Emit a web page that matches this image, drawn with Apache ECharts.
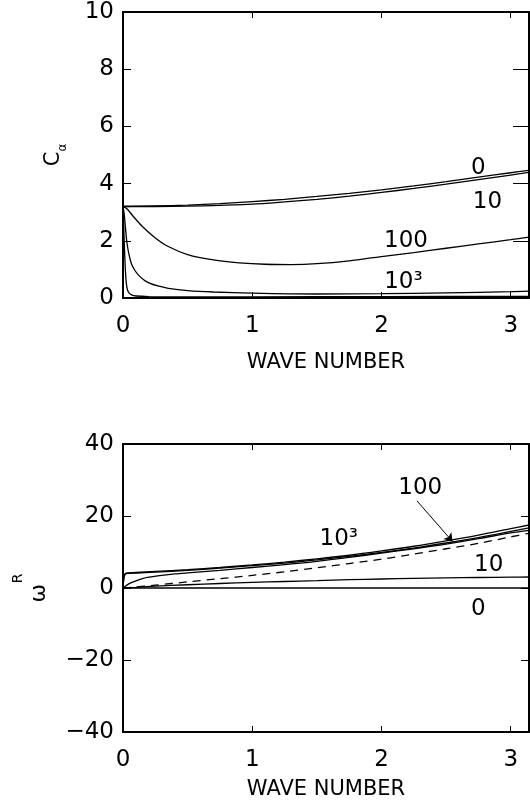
<!DOCTYPE html>
<html><head><meta charset="utf-8">
<script src="https://cdn.jsdelivr.net/npm/echarts@6/dist/echarts.min.js"></script>
<style>html,body{margin:0;padding:0;background:#fff}#c{width:530px;height:802px}</style>
</head><body><div id="c"></div><script>
// ---------- Top panel: phase speed C_alpha vs wave number ----------
const kC0   = [0, 0.25, 0.5, 0.75, 1, 1.25, 1.5, 1.75, 2, 2.25, 2.5, 2.75, 3, 3.1416];
const c0    = [3.20, 3.22, 3.25, 3.30, 3.37, 3.45, 3.55, 3.66, 3.78, 3.92, 4.07, 4.23, 4.38, 4.46];
const kC10  = [0, 0.25, 0.5, 0.75, 1, 1.25, 1.5, 1.75, 2, 2.25, 2.5, 2.75, 3, 3.1416];
const c10   = [3.20, 3.20, 3.21, 3.24, 3.28, 3.36, 3.45, 3.56, 3.69, 3.83, 3.98, 4.14, 4.30, 4.39];
const kC100 = [0, 0.03, 0.08, 0.15, 0.25, 0.35, 0.5, 0.7, 0.9, 1.1, 1.3, 1.5, 1.75, 2, 2.25, 2.5, 2.75, 3, 3.1416];
const c100  = [3.20, 3.12, 2.85, 2.50, 2.10, 1.80, 1.52, 1.33, 1.23, 1.18, 1.17, 1.20, 1.30, 1.45, 1.59, 1.74, 1.89, 2.04, 2.13];
const kC1e3 = [0, 0.01, 0.02, 0.03, 0.045, 0.065, 0.09, 0.12, 0.16, 0.2, 0.27, 0.35, 0.5, 0.7, 1, 1.5, 2, 2.5, 3, 3.1416];
const c1e3  = [3.20, 2.90, 2.40, 1.95, 1.55, 1.20, 0.98, 0.80, 0.64, 0.53, 0.42, 0.34, 0.26, 0.21, 0.17, 0.14, 0.15, 0.18, 0.22, 0.24];
const kC1e4 = [0, 0.005, 0.01, 0.015, 0.02, 0.026, 0.035, 0.05, 0.07, 0.1, 0.2, 0.5, 1, 2, 3, 3.1416];
const c1e4  = [3.20, 2.60, 1.90, 1.30, 0.85, 0.50, 0.28, 0.16, 0.10, 0.07, 0.05, 0.04, 0.04, 0.05, 0.06, 0.06];

// ---------- Bottom panel: omega^R vs wave number ----------
const kW0   = [0, 3.1416];
const w0    = [0, 0];
const kW10  = [0, 0.1, 0.25, 0.5, 0.75, 1, 1.25, 1.5, 1.75, 2, 2.25, 2.5, 2.75, 3, 3.1416];
const w10   = [0, 0.2, 0.5, 0.9, 1.25, 1.55, 1.8, 2.05, 2.3, 2.5, 2.65, 2.8, 2.92, 3.02, 3.05];
const kW100 = [0, 0.03, 0.06, 0.1, 0.15, 0.2, 0.3, 0.4, 0.5, 0.75, 1, 1.25, 1.5, 1.75, 2, 2.25, 2.5, 2.75, 3, 3.1416];
const w100  = [0, 0.8, 1.4, 2.0, 2.6, 3.0, 3.5, 3.9, 4.2, 4.9, 5.7, 6.5, 7.4, 8.5, 9.7, 10.9, 12.2, 13.7, 15.3, 16.0];
const kW1e3 = [0, 0.005, 0.01, 0.02, 0.04, 0.1, 0.25, 0.5, 0.75, 1, 1.25, 1.5, 1.75, 2, 2.25, 2.5, 2.75, 3, 3.1416];
const w1e3  = [0, 2.2, 3.3, 3.9, 4.05, 4.15, 4.4, 4.9, 5.5, 6.2, 6.9, 7.8, 8.8, 9.9, 11.1, 12.5, 14.0, 15.7, 16.7];
const kW1e4 = [0, 0.005, 0.01, 0.02, 0.04, 0.1, 0.25, 0.5, 0.75, 1, 1.25, 1.5, 1.75, 2, 2.25, 2.5, 2.75, 3, 3.1416];
const w1e4  = [0, 2.5, 3.6, 4.1, 4.2, 4.3, 4.6, 5.1, 5.7, 6.4, 7.2, 8.1, 9.1, 10.3, 11.6, 13.1, 14.7, 16.5, 17.5];
const kWd   = [0, 0.25, 0.5, 0.75, 1, 1.25, 1.5, 1.75, 2, 2.25, 2.5, 2.75, 3, 3.1416];
const wDash = [0, 0.8, 1.7, 2.6, 3.5, 4.5, 5.6, 6.8, 8.0, 9.4, 10.9, 12.4, 14.2, 15.2];

// ---------- Tick labels ----------
const xTickVals   = [0, 1, 2, 3];
const xTickLabels = ['0', '1', '2', '3'];
const cTickVals   = [0, 2, 4, 6, 8, 10];
const cTickLabels = ['0', '2', '4', '6', '8', '10'];
const wTickVals   = [-40, -20, 0, 20, 40];
const wTickLabels = ['\u221240', '\u221220', '0', '20', '40'];

// ---------- Curve annotations (data coordinates) ----------
const topNotes = [[2.75, 4.55, '0'], [2.82, 3.35, '10'], [2.19, 2.0, '100'], [2.17, 0.55, '10\u00b3']];
const botNotes = [[2.30, 27.8, '100'], [1.67, 13.6, '10\u00b3'], [2.83, 6.4, '10'], [2.75, -5.8, '0']];
const arrowFrom = [2.275, 24.2];
const arrowTo   = [2.55, 12.9];

const FONT = 'DejaVu Sans';
const TICK_FS = 23;
const zip = (xs, ys) => xs.map((x, i) => [x, ys[i]]);
const lookup = (vals, labs) => v => { const i = vals.findIndex(t => Math.abs(t - v) < 1e-6); return i < 0 ? '' : labs[i]; };

const BLACK = '#000';
const axisLine = { show: true, onZero: false, lineStyle: { color: BLACK, width: 2 } };

function xAxes(gridIndex, nameGap) {
  return [
    { type: 'value', gridIndex, position: 'bottom', min: 0, max: 3.1416, interval: 1,
      name: 'WAVE NUMBER', nameLocation: 'middle', nameGap, nameMoveOverlap: false,
      nameTextStyle: { fontFamily: FONT, fontSize: 21, color: BLACK },
      axisLine, axisTick: { show: true, inside: true, length: 6, lineStyle: { color: BLACK, width: 1 } },
      axisLabel: { show: true, margin: 17, fontFamily: FONT, fontSize: TICK_FS, color: BLACK,
        formatter: lookup(xTickVals, xTickLabels), showMaxLabel: false },
      splitLine: { show: false } },
    { type: 'value', gridIndex, position: 'top', min: 0, max: 3.1416, interval: 1,
      axisLine, axisTick: { show: true, inside: true, length: 6, lineStyle: { color: BLACK, width: 1 } },
      axisLabel: { show: false }, splitLine: { show: false } }
  ];
}
function yAxes(gridIndex, min, max, interval, vals, labs, name, rich, nameGap, rightTick) {
  return [
    { type: 'value', gridIndex, position: 'left', min, max, interval,
      name, nameLocation: 'middle', nameGap, nameRotate: 90, nameMoveOverlap: false,
      nameTextStyle: { fontFamily: FONT, color: BLACK, rich },
      axisLine, axisTick: { show: true, inside: true, length: 8, lineStyle: { color: BLACK, width: 1 } },
      axisLabel: { show: true, margin: 9, fontFamily: FONT, fontSize: TICK_FS, color: BLACK,
        formatter: lookup(vals, labs) },
      splitLine: { show: false } },
    { type: 'value', gridIndex, position: 'right', min, max, interval,
      axisLine, axisTick: { show: true, inside: true, length: rightTick, lineStyle: { color: BLACK, width: 1 } },
      axisLabel: { show: false }, splitLine: { show: false } }
  ];
}

function curve(xi, yi, xs, ys, dashed) {
  return { type: 'line', xAxisIndex: xi, yAxisIndex: yi, data: zip(xs, ys),
    showSymbol: false, symbol: 'none', smooth: 0.3,
    lineStyle: { color: BLACK, width: 1.3, type: dashed ? [8, 6] : 'solid' }, z: 3 };
}
function notes(xi, yi, pts, extra) {
  return Object.assign({ type: 'scatter', xAxisIndex: xi, yAxisIndex: yi, data: pts,
    symbolSize: 1, itemStyle: { color: 'rgba(0,0,0,0)' }, silent: true,
    label: { show: true, position: 'inside', formatter: p => p.data[2],
      fontFamily: FONT, fontSize: TICK_FS, color: BLACK, textBorderWidth: 0, opacity: 1 } }, extra || {});
}

const chart = echarts.init(document.getElementById('c'), null, { renderer: 'canvas' });
chart.setOption({
  animation: false,
  backgroundColor: '#fff',
  grid: [
    { left: 123, right: 1, top: 12, height: 286 },
    { left: 123, right: 1, top: 444, height: 288 }
  ],
  xAxis: [...xAxes(0, 54), ...xAxes(1, 47)],
  yAxis: [
    ...yAxes(0, 0, 10, 2, cTickVals, cTickLabels, '{c|C}{s|\u03b1}',
      { c: { fontFamily: FONT, fontSize: 21, lineHeight: 22, padding: [0, 0, 6, 0], color: BLACK },
        s: { fontFamily: FONT, fontSize: 12, lineHeight: 12, padding: [14, 0, 2, 0], color: BLACK } },
      55, 16),
    ...yAxes(1, -40, 40, 20, wTickVals, wTickLabels, '{w|\u03c9}{r|R}',
      { w: { fontFamily: FONT, fontSize: 22, lineHeight: 24, padding: [16, 0, 0, 0], color: BLACK },
        r: { fontFamily: FONT, fontSize: 14, lineHeight: 14, padding: [0, 0, 26, 1], color: BLACK } },
      80, 8)
  ],
  series: [
    curve(0, 0, kC0, c0),
    curve(0, 0, kC10, c10),
    curve(0, 0, kC100, c100),
    curve(0, 0, kC1e3, c1e3),
    curve(0, 0, kC1e4, c1e4),
    notes(0, 0, topNotes),
    curve(2, 2, kW0, w0),
    curve(2, 2, kW10, w10),
    curve(2, 2, kW100, w100),
    curve(2, 2, kW1e3, w1e3),
    curve(2, 2, kW1e4, w1e4),
    curve(2, 2, kWd, wDash, true),
    notes(2, 2, botNotes, {
      markLine: { silent: true, symbol: ['none', 'arrow'], symbolSize: 8,
        lineStyle: { color: BLACK, width: 1, type: 'solid' }, label: { show: false },
        data: [[{ coord: arrowFrom }, { coord: arrowTo }]] }
    })
  ]
});
</script></body></html>
